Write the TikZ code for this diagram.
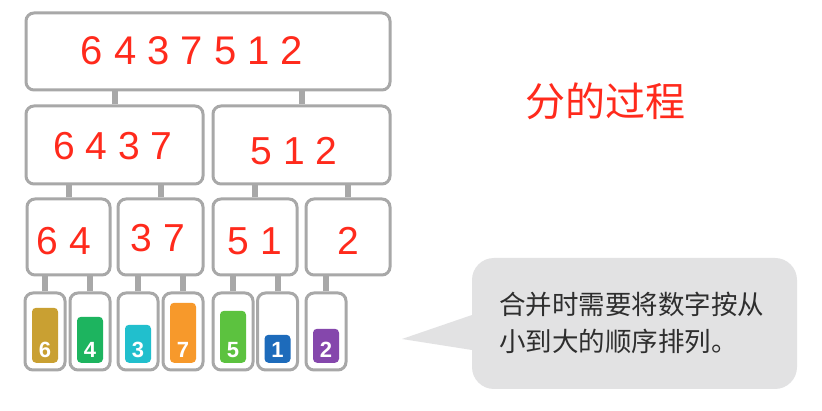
\documentclass[tikz,border=0pt]{standalone}
\usepackage{fontspec}
\setmainfont{Liberation Sans}
\newfontfamily\cjk{Noto Sans CJK SC}
\usetikzlibrary{backgrounds}
\definecolor{boxgray}{HTML}{A8A8A8}
\definecolor{numred}{HTML}{FF2A1C}
\definecolor{bubblegray}{HTML}{E2E2E3}
\definecolor{bubbletext}{HTML}{2E2E2E}
\definecolor{csix}{HTML}{C9A032}
\definecolor{cfour}{HTML}{1DB45F}
\definecolor{cthree}{HTML}{21BFCD}
\definecolor{cseven}{HTML}{F7992B}
\definecolor{cfive}{HTML}{5CC23F}
\definecolor{cone}{HTML}{1D6BBB}
\definecolor{ctwo}{HTML}{8547AC}
\begin{document}
\begin{tikzpicture}[x=1pt,y=-1pt,
  box/.style={draw=boxgray, line width=3pt, rounded corners=8pt, fill=white, inner sep=0pt},
  leaf/.style={box, minimum width=40pt, minimum height=77pt},
  conn/.style={draw=boxgray, line width=6pt},
  num/.style={text=numred, inner sep=0pt, anchor=base, font=\fontsize{40}{40}\selectfont},
  bar/.style={rounded corners=4pt, inner sep=0pt, minimum width=26pt, anchor=south},
  bardig/.style={text=white, inner sep=0pt, font=\fontsize{22}{22}\selectfont\bfseries},
  bubble/.style={fill=bubblegray, rounded corners=22pt, inner sep=0pt, minimum width=325pt, minimum height=131pt}
]
\useasboundingbox (0,0) rectangle (822,411);
% boxes
\node[box, minimum width=364pt, minimum height=77pt] (top) at (208,51.5) {};
\node[box, minimum width=177pt, minimum height=78pt] (ma) at (114.5,145) {};
\node[box, minimum width=177pt, minimum height=78pt] (mb) at (301.5,145) {};
\node[box, minimum width=83pt, minimum height=76pt] (ta) at (68.5,237) {};
\node[box, minimum width=85pt, minimum height=76pt] (tb) at (160.5,237) {};
\node[box, minimum width=84pt, minimum height=76pt] (tc) at (255,237) {};
\node[box, minimum width=84pt, minimum height=76pt] (td) at (348,237) {};
\node[leaf] (l1) at (45,331.5) {};
\node[leaf] (l2) at (90,331.5) {};
\node[leaf] (l3) at (138,331.5) {};
\node[leaf] (l4) at (183,331.5) {};
\node[leaf] (l5) at (233,331.5) {};
\node[leaf] (l6) at (277.5,331.5) {};
\node[leaf] (l7) at (326,331.5) {};
% connectors
\begin{pgfonlayer}{background}
\fill[white] (0,0) rectangle (822,411);
\draw[conn] (ma.north) -- (ma.north |- top.south);
\draw[conn] (mb.north) -- (mb.north |- top.south);
\draw[conn] (ta.north) -- (ta.north |- ma.south);
\draw[conn] (tb.north) -- (tb.north |- ma.south);
\draw[conn] (tc.north) -- (tc.north |- mb.south);
\draw[conn] (td.north) -- (td.north |- mb.south);
\draw[conn] (l1.north) -- (l1.north |- ta.south);
\draw[conn] (l2.north) -- (l2.north |- ta.south);
\draw[conn] (l3.north) -- (l3.north |- tb.south);
\draw[conn] (l4.north) -- (l4.north |- tb.south);
\draw[conn] (l5.north) -- (l5.north |- tc.south);
\draw[conn] (l6.north) -- (l6.north |- tc.south);
\draw[conn] (l7.north) -- (l7.north |- td.south);
\end{pgfonlayer}
% numbers
\node[num, font=\fontsize{40}{40}\selectfont] (ttop) at (192,65) {6 4 3 7 5 1 2};
\node[num, font=\fontsize{39}{39}\selectfont] (tma) at (113,160) {6 4 3 7};
\node[num, font=\fontsize{39}{39}\selectfont] (tmb) at (294,165) {5 1 2};
\node[num, font=\fontsize{39}{39}\selectfont] (tta) at (64,255) {6 4};
\node[num, font=\fontsize{39}{39}\selectfont] (ttb) at (158,252) {3 7};
\node[num, font=\fontsize{39}{39}\selectfont] (ttc) at (255,255) {5 1};
\node[num, font=\fontsize{39}{39}\selectfont] (ttd) at (348,255) {2};
% bars
\node[bar, fill=csix, minimum height=55pt] (b1) at (45,363) {};
\node[bar, fill=cfour, minimum height=46pt] (b2) at (90,363) {};
\node[bar, fill=cthree, minimum height=38pt] (b3) at (138,363) {};
\node[bar, fill=cseven, minimum height=60pt] (b4) at (183,363) {};
\node[bar, fill=cfive, minimum height=52pt] (b5) at (233,363) {};
\node[bar, fill=cone, minimum height=28pt] (b6) at (277.5,363) {};
\node[bar, fill=ctwo, minimum height=34pt] (b7) at (326,363) {};
\node[bardig] (d1) at (45,350) {6};
\node[bardig] (d2) at (90,350) {4};
\node[bardig] (d3) at (138,350) {3};
\node[bardig] (d4) at (183,350) {7};
\node[bardig] (d5) at (233,350) {5};
\node[bardig] (d6) at (277.5,350) {1};
\node[bardig] (d7) at (326,350) {2};
% title
\node[text=numred, inner sep=0pt, font=\cjk\fontsize{40}{40}\selectfont] (title) at (605,101) {分的过程};
% bubble
\node[bubble] (bub) at (634.5,323.5) {};
\fill[bubblegray] (472,315) -- (402,339) -- (472,350) -- cycle;
\node[anchor=west, inner sep=0pt, text=bubbletext, font=\cjk\fontsize{26.5}{26.5}\selectfont] (line1) at (499,304) {合并时需要将数字按从};
\node[anchor=west, inner sep=0pt, text=bubbletext, font=\cjk\fontsize{26.5}{26.5}\selectfont] (line2) at (499,341) {小到大的顺序排列。};
\end{tikzpicture}
\end{document}
